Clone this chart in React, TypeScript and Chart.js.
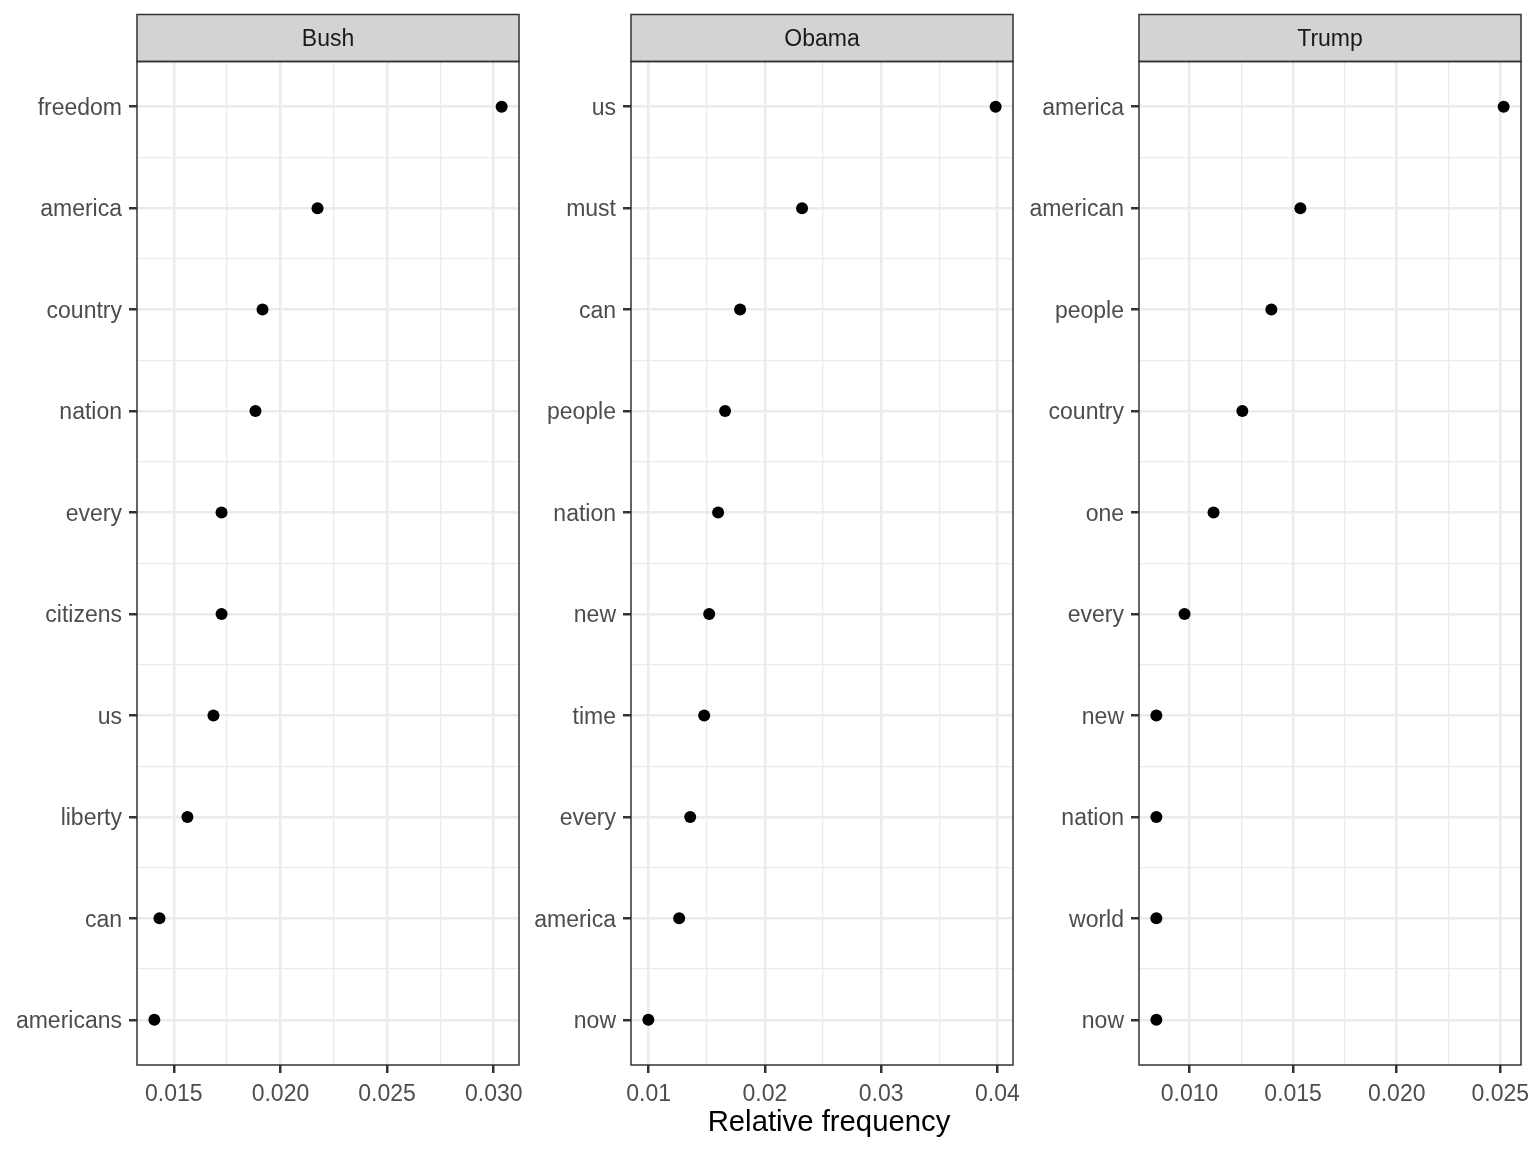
import React, { useEffect, useRef } from "react";
import { Chart, registerables } from "chart.js";

Chart.register(...registerables);

// ---- data ----
const bushWords = ["freedom", "america", "country", "nation", "every", "citizens", "us", "liberty", "can", "americans"];
const bushValues = [0.03037, 0.02174, 0.01916, 0.01883, 0.01724, 0.01724, 0.01686, 0.01564, 0.01433, 0.01409];

const obamaWords = ["us", "must", "can", "people", "nation", "new", "time", "every", "america", "now"];
const obamaValues = [0.03985, 0.0232, 0.01787, 0.01658, 0.01598, 0.01521, 0.01478, 0.01358, 0.01263, 0.00998];

const trumpWords = ["america", "american", "people", "country", "one", "every", "new", "nation", "world", "now"];
const trumpValues = [0.02516, 0.01535, 0.01395, 0.01255, 0.01116, 0.00976, 0.0084, 0.0084, 0.0084, 0.0084];

const panelTitles = ["Bush", "Obama", "Trump"];
const panelWords = [bushWords, obamaWords, trumpWords];
const panelValues = [bushValues, obamaValues, trumpValues];
const xTickSteps = [0.005, 0.01, 0.005];
const xTickDecimals = [3, 2, 3];
const xAxisTitle = "Relative frequency";

// ---- layout / style ----
const FONT = '"Liberation Sans", Arial, Helvetica, sans-serif';
const PANEL_LEFTS = [137, 631, 1139];
const PANEL_W = 382;
const STRIP_TOP = 14.5;
const PANEL_TOP = 61.5;
const PANEL_BOTTOM = 1065;
const YAXIS_W = 136;
const RIGHT_PAD = 30;
const XAXIS_H = 40;
const H = 1152;
const Y_EXPAND = 0.4455;
const TICK_FONT = 23;

function expandRange(vals: number[]) {
  const lo = Math.min(...vals);
  const hi = Math.max(...vals);
  const pad = (hi - lo) * 0.05;
  return [lo - pad, hi + pad];
}

function isMultiple(v: number, step: number) {
  const r = v / step;
  return Math.abs(r - Math.round(r)) < 1e-6;
}

function halfTicks(min: number, max: number, step: number) {
  const half = step / 2;
  const out: number[] = [];
  const k0 = Math.ceil(min / half - 1e-9);
  const k1 = Math.floor(max / half + 1e-9);
  for (let k = k0; k <= k1; k++) out.push(+(k * half).toFixed(8));
  return out;
}

export default function App() {
  const refs = [useRef<HTMLCanvasElement>(null), useRef<HTMLCanvasElement>(null), useRef<HTMLCanvasElement>(null)];

  useEffect(() => {
    document.body.style.margin = "0";
    document.body.style.overflow = "hidden";
    const charts: Chart[] = [];
    for (let p = 0; p < 3; p++) {
      const canvas = refs[p].current;
      if (!canvas) continue;
      const words = panelWords[p];
      const values = panelValues[p];
      const step = xTickSteps[p];
      const dec = xTickDecimals[p];
      const [xmin, xmax] = expandRange(values);
      const title = panelTitles[p];

      const panelPlugin = {
        id: "panelDeco" + p,
        afterDraw(chart: any) {
          const ctx = chart.ctx;
          const a = chart.chartArea;
          ctx.save();
          // strip
          ctx.fillStyle = "#D3D3D3";
          ctx.fillRect(a.left, STRIP_TOP, a.right - a.left, PANEL_TOP - STRIP_TOP);
          ctx.strokeStyle = "#333333";
          ctx.lineWidth = 1.5;
          ctx.strokeRect(a.left, STRIP_TOP, a.right - a.left, PANEL_TOP - STRIP_TOP);
          ctx.fillStyle = "#1A1A1A";
          ctx.font = `${TICK_FONT}px ${FONT}`;
          ctx.textAlign = "center";
          ctx.textBaseline = "middle";
          ctx.fillText(title, (a.left + a.right) / 2, (STRIP_TOP + PANEL_TOP) / 2 + 2);
          // panel border
          ctx.strokeRect(a.left, a.top, a.right - a.left, a.bottom - a.top);
          ctx.restore();
        },
      };

      const chart = new Chart(canvas, {
        type: "scatter",
        data: {
          datasets: [
            {
              data: values.map((v, i) => ({ x: v, y: i })),
              backgroundColor: "#000000",
              borderWidth: 0,
              pointRadius: 6,
              pointHoverRadius: 6,
              clip: false as any,
            },
          ],
        },
        options: {
          animation: false,
          responsive: false,
          devicePixelRatio: 1,
          events: [],
          layout: {
            padding: { top: PANEL_TOP, bottom: H - PANEL_BOTTOM - XAXIS_H, left: 0, right: RIGHT_PAD },
          },
          plugins: { legend: { display: false }, tooltip: { enabled: false }, title: { display: false } },
          scales: {
            x: {
              type: "linear",
              min: xmin,
              max: xmax,
              offset: false,
              border: { display: false },
              afterBuildTicks: (scale: any) => {
                scale.ticks = halfTicks(xmin, xmax, step).map((v) => ({ value: v }));
              },
              afterFit: (scale: any) => {
                scale.height = XAXIS_H;
              },
              grid: {
                color: "#EBEBEB",
                lineWidth: (c: any) => (c.tick && isMultiple(c.tick.value, step) ? 2.5 : 1.3),
                tickColor: (c: any) => (c.tick && isMultiple(c.tick.value, step) ? "#333333" : "rgba(0,0,0,0)"),
                tickWidth: 2.5,
                tickLength: 8,
                drawTicks: true,
              },
              ticks: {
                autoSkip: false,
                maxRotation: 0,
                padding: 8,
                color: "#4D4D4D",
                font: { family: FONT, size: TICK_FONT },
                callback: (v: any) => (isMultiple(Number(v), step) ? Number(v).toFixed(dec) : ""),
              },
            },
            y: {
              type: "linear",
              reverse: true,
              min: -Y_EXPAND,
              max: words.length - 1 + Y_EXPAND,
              offset: false,
              border: { display: false },
              afterBuildTicks: (scale: any) => {
                const t: { value: number }[] = [];
                for (let k = 0; k <= (words.length - 1) * 2; k++) t.push({ value: k / 2 });
                scale.ticks = t;
              },
              afterFit: (scale: any) => {
                scale.width = YAXIS_W;
              },
              grid: {
                color: "#EBEBEB",
                lineWidth: (c: any) => (c.tick && Number.isInteger(c.tick.value) ? 2.5 : 1.3),
                tickColor: (c: any) => (c.tick && Number.isInteger(c.tick.value) ? "#333333" : "rgba(0,0,0,0)"),
                tickWidth: 2.5,
                tickLength: 8,
                drawTicks: true,
              },
              ticks: {
                autoSkip: false,
                padding: 7,
                labelOffset: 2,
                color: "#4D4D4D",
                font: { family: FONT, size: TICK_FONT },
                callback: (v: any) => {
                  const n = Number(v);
                  return Number.isInteger(n) ? words[n] : "";
                },
              },
            },
          },
        },
        plugins: [panelPlugin],
      } as any);
      charts.push(chart);
    }
    return () => {
      charts.forEach((c) => c.destroy());
    };
  }, []);

  const cw = YAXIS_W + PANEL_W + RIGHT_PAD;
  return (
    <div style={{ position: "absolute", left: 0, top: 0, width: 1536, height: H, background: "#FFFFFF", overflow: "hidden" }}>
      {PANEL_LEFTS.map((pl, i) => (
        <canvas
          key={i}
          ref={refs[i]}
          width={cw}
          height={H}
          style={{ position: "absolute", left: pl - YAXIS_W, top: 0, width: cw, height: H }}
        />
      ))}
      <div
        style={{
          position: "absolute",
          left: (PANEL_LEFTS[0] + PANEL_LEFTS[2] + PANEL_W) / 2,
          top: 1103.5,
          transform: "translateX(-50%)",
          fontFamily: FONT,
          fontSize: 29.3,
          lineHeight: "normal",
          color: "#000000",
          whiteSpace: "nowrap",
        }}
      >
        {xAxisTitle}
      </div>
    </div>
  );
}
